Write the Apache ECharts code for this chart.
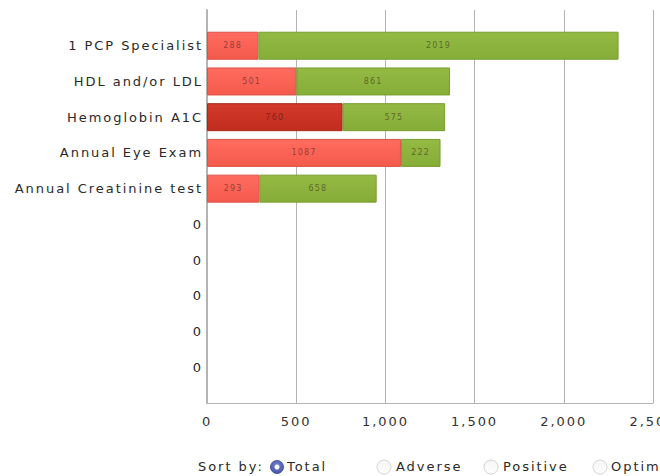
<!DOCTYPE html>
<html>
<head>
<meta charset="utf-8">
<script src="https://cdn.jsdelivr.net/npm/echarts@6/dist/echarts.min.js"></script>
<style>
  html, body { margin: 0; padding: 0; background: #fff; }
  #chart { width: 660px; height: 476px; }
  /* tracked-out lettering used throughout the widget */
  #chart svg text { letter-spacing: 0.15em !important; }
</style>
</head>
<body>
<div id="chart"></div>
<script>
// Measures (top to bottom); empty slots are shown as "0"
const categories = ['1 PCP Specialist', 'HDL and/or LDL', 'Hemoglobin A1C', 'Annual Eye Exam', 'Annual Creatinine test', '0', '0', '0', '0', '0'];
const adverse  = [288, 501, 760, 1087, 293];
const positive = [2019, 861, 575, 222, 658];
const highlighted = 2;               // row drawn in the darker red
const xTicks = [0, 500, 1000, 1500, 2000, 2500];
const sortOptions = ['Total', 'Adverse', 'Positive', 'Optimal'];

const FONT = 'DejaVu Sans';
const chart = echarts.init(document.getElementById('chart'), null, { renderer: 'svg' });

const red = new echarts.graphic.LinearGradient(0, 0, 0, 1, [
  { offset: 0, color: '#ff6c5f' }, { offset: 1, color: '#f45a4c' }]);
const darkRed = new echarts.graphic.LinearGradient(0, 0, 0, 1, [
  { offset: 0, color: '#d23a2a' }, { offset: 1, color: '#c22c1e' }]);
const green = new echarts.graphic.LinearGradient(0, 0, 0, 1, [
  { offset: 0, color: '#94ba44' }, { offset: 1, color: '#86ad38' }]);

const valueLabel = {
  show: true, position: 'inside', fontFamily: FONT, fontSize: 8,
  color: 'rgba(40,20,20,0.5)'
};

// Frame grid spans the full plot height; bar grid is inset by half a row
const plotTop = 10, plotBottom = 73;
const rowH = (476 - plotTop - plotBottom) / (categories.length + 1);

chart.setOption({
  animation: false,
  grid: [
    { left: 207, right: 7, top: plotTop, bottom: plotBottom, outerBoundsMode: 'none', containLabel: false },
    { left: 207, right: 7, top: plotTop + rowH / 2, bottom: plotBottom + rowH / 2, outerBoundsMode: 'none', containLabel: false }
  ],
  xAxis: [
    {
      gridIndex: 0, type: 'value', min: xTicks[0], max: xTicks[xTicks.length - 1],
      interval: xTicks[1] - xTicks[0],
      axisLine: { show: true, lineStyle: { color: '#b4b4b4', width: 1 } },
      axisTick: { show: false },
      splitLine: { show: true, lineStyle: { color: '#b4b4b4', width: 1 } },
      axisLabel: {
        margin: 12, fontFamily: FONT, fontSize: 13, color: '#333',
        formatter: v => v.toLocaleString('en-US')
      }
    },
    {
      gridIndex: 1, type: 'value', min: xTicks[0], max: xTicks[xTicks.length - 1],
      show: false
    }
  ],
  yAxis: [
    {
      gridIndex: 0, type: 'value', min: 0, max: 1,
      axisLine: { show: true, lineStyle: { color: '#b4b4b4', width: 2 } },
      axisTick: { show: false }, axisLabel: { show: false }, splitLine: { show: false }
    },
    {
      gridIndex: 1, type: 'category', inverse: true, data: categories,
      axisLine: { show: false }, axisTick: { show: false },
      axisLabel: { margin: 4, fontFamily: FONT, fontSize: 13, color: '#2a2a2a' }
    }
  ],
  series: [
    {
      name: 'Adverse', type: 'bar', stack: 'total', xAxisIndex: 1, yAxisIndex: 1,
      barWidth: 28,
      data: adverse.map((v, i) => ({
        value: v,
        itemStyle: i === highlighted
          ? { color: darkRed, borderColor: '#a8281b', borderWidth: 1 }
          : { color: red, borderColor: '#dc5246', borderWidth: 1 }
      })),
      label: valueLabel
    },
    {
      name: 'Positive', type: 'bar', stack: 'total', xAxisIndex: 1, yAxisIndex: 1,
      barWidth: 28,
      itemStyle: { color: green, borderColor: '#789e2f', borderWidth: 1 },
      data: positive,
      label: valueLabel
    }
  ],
  graphic: [
    { type: 'text', left: 198, top: 460,
      style: { text: 'Sort by:', font: `13px "${FONT}"`, fill: '#2a2a2a' } },
    // selected radio
    { type: 'circle', shape: { cx: 277, cy: 467, r: 6.5 },
      style: { fill: new echarts.graphic.RadialGradient(0.5, 0.4, 0.7, [
        { offset: 0, color: '#7686d0' }, { offset: 1, color: '#3c4c9e' }]),
        stroke: '#4a5aa8', lineWidth: 1 } },
    { type: 'circle', shape: { cx: 277, cy: 467, r: 2.5 }, style: { fill: '#fff' } },
    { type: 'text', left: 287, top: 460,
      style: { text: sortOptions[0], font: `13px "${FONT}"`, fill: '#2a2a2a' } },
    // unselected radios
    ...[[384, 396, 1], [491, 503, 2], [600, 611, 3]].flatMap(([cx, tx, k]) => [
      { type: 'circle', shape: { cx: cx, cy: 467, r: 7 },
        style: { fill: new echarts.graphic.LinearGradient(0, 0, 0, 1, [
          { offset: 0, color: '#f4f4f4' }, { offset: 1, color: '#ffffff' }]),
          stroke: '#d4d4d4', lineWidth: 1 } },
      { type: 'text', left: tx, top: 460,
        style: { text: sortOptions[k], font: `13px "${FONT}"`, fill: '#2a2a2a' } }
    ])
  ]
});
</script>
</body>
</html>
